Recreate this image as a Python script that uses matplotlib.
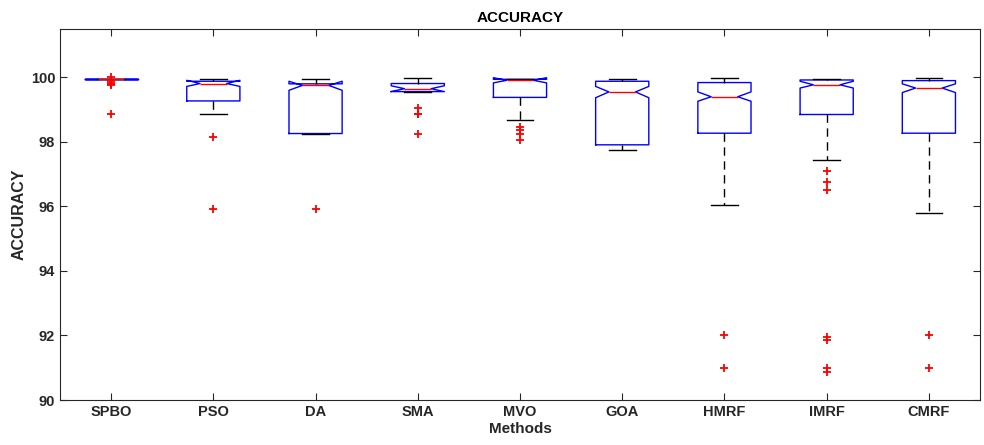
import matplotlib
matplotlib.use("Agg")
import matplotlib.pyplot as plt

plt.rcParams['font.family'] = ['Liberation Sans', 'DejaVu Sans']

methods = ["SPBO", "PSO", "DA", "SMA", "MVO", "GOA", "HMRF", "IMRF", "CMRF"]
whishi = [99.95, 99.96, 99.94, 99.98, 99.96, 99.95, 99.98, 99.95, 99.98]
q3 =     [99.95, 99.88, 99.80, 99.81, 99.94, 99.88, 99.84, 99.92, 99.90]
med =    [99.95, 99.81, 99.75, 99.65, 99.91, 99.55, 99.40, 99.77, 99.67]
q1 =     [99.95, 99.27, 98.26, 99.56, 99.38, 97.91, 98.27, 98.85, 98.27]
whislo = [99.95, 98.88, 98.26, 99.56, 98.69, 97.74, 96.04, 97.45, 95.80]
cihi =   [99.95, 99.91, 99.88, 99.74, 99.99, 99.72, 99.55, 99.88, 99.80]
cilo =   [99.95, 99.72, 99.60, 99.56, 99.83, 99.37, 99.26, 99.67, 99.53]
fliers = [
    [100.0, 99.92, 99.88, 99.84, 99.80, 99.76, 98.88],
    [98.16, 95.92],
    [95.92],
    [99.06, 98.88, 98.85, 98.26],
    [98.46, 98.36, 98.26, 98.05],
    [],
    [92.0, 91.0],
    [97.10, 96.76, 96.52, 91.96, 91.85, 90.98, 90.88],
    [92.0, 91.0],
]

stats = []
for i in range(len(methods)):
    stats.append(dict(label=methods[i], med=med[i], q1=q1[i], q3=q3[i],
                      whislo=whislo[i], whishi=whishi[i],
                      cilo=cilo[i], cihi=cihi[i], fliers=fliers[i]))

fig = plt.figure(figsize=(9.84, 4.45), dpi=100)
ax = fig.add_axes([60/984, 45/445, 920/984, 371/445])

ax.bxp(stats, positions=range(1, len(methods) + 1), widths=0.52, shownotches=True,
       boxprops=dict(color='#0000ff', linewidth=1.0),
       medianprops=dict(color='#ff0000', linewidth=1.0),
       whiskerprops=dict(color='black', linewidth=1.0, linestyle=(0, (6, 4))),
       capprops=dict(color='black', linewidth=1.0),
       flierprops=dict(marker='+', markeredgecolor='#ff0000', markersize=6,
                       markeredgewidth=1.3, linestyle='none'))

ax.set_xlim(0.5, 9.5)
ax.set_ylim(90, 101.5)
ax.set_yticks([90, 92, 94, 96, 98, 100])
ax.set_xticks(range(1, len(methods) + 1))
ax.set_xticklabels(methods)

for lbl in ax.get_xticklabels() + ax.get_yticklabels():
    lbl.set_fontweight('bold')
    lbl.set_fontsize(10.5)
    lbl.set_color('#262626')

ax.tick_params(direction='in', top=True, right=True, length=5, width=0.8,
               color='#262626')
for sp in ax.spines.values():
    sp.set_color('#262626')
    sp.set_linewidth(0.8)

ax.set_title("ACCURACY", fontsize=11, fontweight='bold', pad=5)
ax.set_xlabel("Methods", fontsize=11, fontweight='bold', color='#262626', labelpad=2)
ax.set_ylabel("ACCURACY", fontsize=11.5, fontweight='bold', color='#262626', labelpad=3)

fig.savefig("out.png", dpi=100)
